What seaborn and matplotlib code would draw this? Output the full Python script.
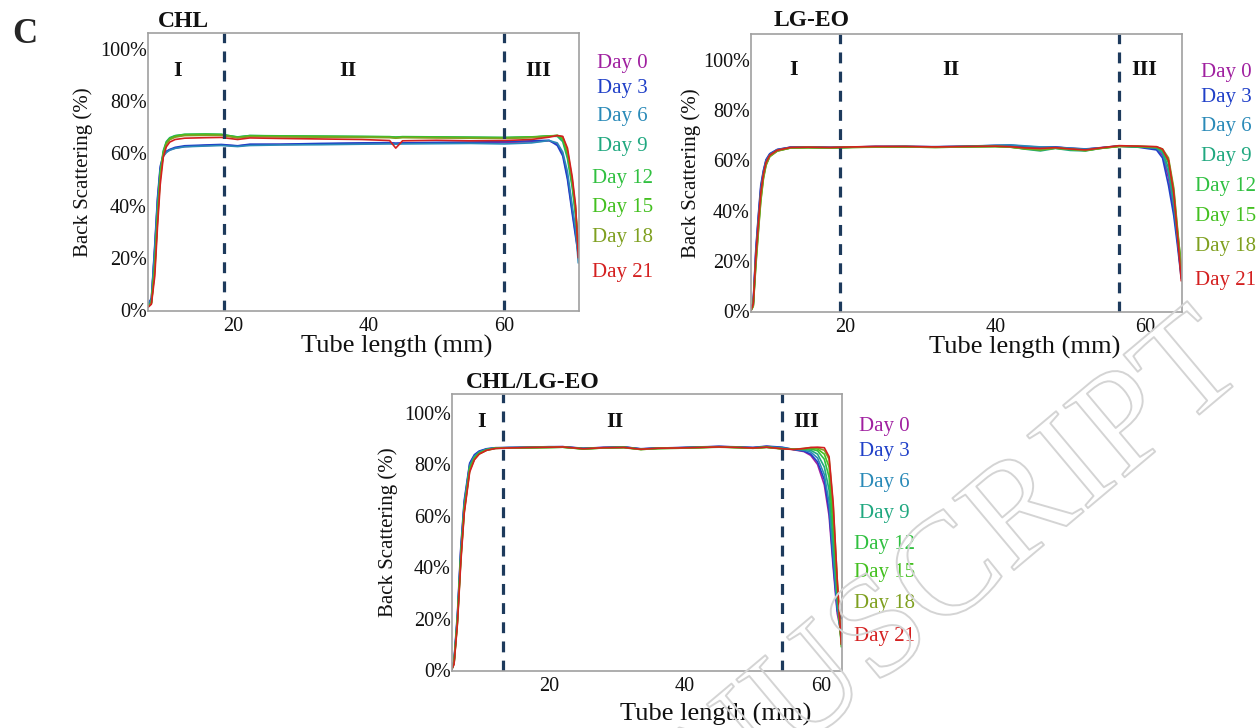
import matplotlib
matplotlib.use('Agg')
import pandas as pd
import seaborn as sns
import matplotlib.pyplot as plt
import matplotlib.patheffects as pe
from matplotlib.ticker import FuncFormatter

days = ['Day 0', 'Day 3', 'Day 6', 'Day 9', 'Day 12', 'Day 15', 'Day 18', 'Day 21']
day_colors = ['#a020a0', '#2040c8', '#2a8ab8', '#20a880', '#30c040', '#44c020', '#7fa020', '#d42020']

# CHL - back scattering (%) along the tube (mm)
chl_x = [7.5, 8.0, 8.5, 8.9, 9.3, 9.75, 10.2, 10.7, 11.5, 12.9, 16, 18.3, 20.7, 22.5, 27, 33, 39,
         43.1, 44, 45, 50, 55, 60, 64, 66.6, 67.8, 68.6, 69.3, 70.0, 70.5, 70.9]
chl_d0 = [2.0, 4.0, 24, 42, 54, 59, 60.5, 61.3, 62.0, 62.6, 63.0, 63.2, 62.8, 63.3, 63.4, 63.6, 63.8,
          63.9, 63.7, 63.9, 64.0, 64.1, 64.2, 64.4, 64.8, 63.5, 60, 51, 38, 29, 22]
chl_d3 = [2.2, 4.5, 25, 43, 55, 59.5, 60.8, 61.5, 62.3, 62.9, 63.2, 63.4, 62.9, 63.5, 63.5, 63.8, 64.0,
          64.1, 63.9, 64.0, 64.2, 64.3, 64.5, 64.8, 65.0, 63.0, 59, 50, 37, 28, 21]
chl_d6 = [1.8, 4.0, 23, 41, 53, 58.8, 60.3, 61.2, 61.9, 62.5, 62.8, 63.0, 62.6, 63.0, 63.2, 63.3, 63.5,
          63.6, 63.5, 63.6, 63.7, 63.8, 63.6, 64.0, 64.9, 64.0, 60.5, 53, 40, 31, 18]
chl_d9 = [1.5, 3.0, 18, 37, 53, 61, 64.5, 66.0, 66.8, 67.2, 67.3, 67.2, 66.3, 66.8, 66.6, 66.5, 66.4,
          66.3, 66.2, 66.3, 66.2, 66.1, 66.0, 66.2, 66.6, 66.5, 64.5, 58, 47, 36, 24]
chl_d12 = [1.4, 2.8, 17, 36, 52, 60.5, 64.2, 65.8, 66.7, 67.3, 67.4, 67.3, 66.2, 66.8, 66.7, 66.6, 66.5,
           66.4, 66.2, 66.4, 66.3, 66.2, 66.1, 66.3, 66.7, 66.8, 65.2, 59, 48, 37, 25]
chl_d15 = [1.3, 2.6, 16, 35, 51, 60, 64.0, 65.6, 66.5, 67.1, 67.2, 67.1, 66.1, 66.6, 66.5, 66.4, 66.3,
           66.2, 66.0, 66.2, 66.1, 66.0, 65.9, 66.2, 66.6, 66.8, 65.8, 60, 49, 38, 24]
chl_d18 = [1.2, 2.5, 15, 34, 50, 59.5, 63.5, 65.2, 66.2, 66.8, 66.9, 66.9, 65.9, 66.4, 66.3, 66.2, 66.1,
           66.0, 65.8, 66.0, 65.9, 65.8, 65.7, 66.0, 66.5, 66.9, 66.3, 61, 50, 39, 23]
chl_d21 = [1.0, 2.2, 13, 32, 48, 58.5, 62.5, 64.3, 65.3, 65.8, 66.0, 66.1, 65.3, 65.9, 65.7, 65.5, 65.3,
           64.9, 62.0, 64.8, 65.0, 64.8, 64.9, 65.3, 66.2, 66.8, 66.5, 62, 51, 40, 20]

# LG-EO
lg_x = [7.4, 7.7, 8.05, 8.4, 8.7, 9.05, 9.4, 9.9, 10.9, 12.7, 15, 18, 21, 24, 28, 32, 36, 40,
        42, 44, 46, 48, 50, 52, 54, 56.5, 59, 61.5, 62.3, 63.1, 63.8, 64.3, 64.8]
lg_d0 = [0.4, 3.5, 24, 38, 49, 55.5, 60, 62.5, 64.3, 65.3, 65.3, 65.2, 65.4, 65.5, 65.6, 65.4, 65.6, 65.9,
         65.8, 65.2, 65.0, 65.3, 64.8, 64.4, 65.1, 65.8, 65.5, 64.8, 62.0, 53, 40, 28, 14]
lg_d3 = [0.4, 3.8, 25, 39, 50, 56, 60.3, 62.7, 64.4, 65.3, 65.4, 65.2, 65.3, 65.6, 65.5, 65.5, 65.6, 66.0,
         66.1, 65.6, 65.3, 65.4, 64.9, 64.6, 65.0, 65.7, 65.3, 64.2, 61.0, 50, 38, 26, 13]
lg_d6 = [0.3, 3.2, 23, 37, 48, 55, 59.6, 62.3, 64.2, 65.2, 65.3, 65.1, 65.4, 65.5, 65.6, 65.4, 65.7, 66.0,
         66.2, 65.8, 65.4, 65.2, 64.9, 64.5, 65.0, 65.8, 65.5, 64.9, 62.8, 55, 42, 29, 15]
lg_d9 = [0.3, 2.5, 21, 35, 46, 54, 59, 62.0, 64.0, 65.1, 65.2, 65.0, 65.3, 65.4, 65.5, 65.3, 65.5, 65.7,
         65.4, 64.5, 63.8, 64.8, 64.0, 63.8, 64.8, 65.7, 65.4, 65.0, 63.5, 57, 44, 30, 16]
lg_d12 = [0.2, 2.2, 20, 34, 45, 53.5, 58.5, 61.8, 63.9, 65.0, 65.2, 65.1, 65.3, 65.4, 65.5, 65.3, 65.5, 65.6,
          65.4, 64.8, 64.5, 65.0, 64.5, 64.0, 64.9, 65.7, 65.5, 65.2, 64.0, 59, 46, 31, 17]
lg_d15 = [0.2, 2.0, 19, 33, 44, 53, 58.2, 61.6, 63.8, 65.0, 65.1, 65.0, 65.2, 65.4, 65.4, 65.2, 65.4, 65.6,
          65.3, 64.6, 64.2, 64.9, 64.4, 63.9, 64.8, 65.6, 65.6, 65.3, 64.3, 60, 48, 32, 18]
lg_d18 = [0.2, 1.8, 18, 32, 43.5, 52.5, 58, 61.5, 63.7, 65.0, 65.1, 65.0, 65.2, 65.3, 65.4, 65.2, 65.4, 65.5,
          65.3, 64.7, 64.3, 64.9, 64.5, 64.0, 64.8, 65.6, 65.7, 65.4, 64.6, 61, 49, 33, 17]
lg_d21 = [0.3, 2.8, 22, 36, 47, 54.5, 59.2, 62.1, 64.1, 65.2, 65.3, 65.2, 65.4, 65.6, 65.6, 65.4, 65.6, 65.7,
          65.5, 65.0, 64.8, 65.1, 64.6, 64.2, 65.0, 65.9, 65.7, 65.5, 64.5, 60, 47, 30, 12]

# CHL/LG-EO
mix_x = [5.7, 6.0, 6.5, 7.0, 7.5, 8.3, 9.0, 9.7, 10.8, 12.1, 14, 17, 20, 22, 25, 28, 31, 33.5, 36, 39,
         42, 45, 48, 50, 52, 54.3, 56, 57.5, 58.5, 59.5, 60.5, 61.2, 61.8, 62.4, 63.0]
mix_d0 = [0.6, 3.5, 21, 47, 65, 80, 83.5, 85.0, 86.0, 86.4, 86.5, 86.6, 86.8, 86.9, 86.2, 86.6, 86.8, 86.0, 86.4, 86.5,
          86.7, 87.0, 86.7, 86.5, 87.0, 86.5, 85.7, 85.0, 83.5, 80.0, 72, 60, 40, 22, 14]
mix_d3 = [0.6, 3.8, 22, 48, 66, 80.5, 83.8, 85.2, 86.1, 86.5, 86.6, 86.7, 86.9, 86.9, 86.3, 86.6, 86.8, 86.1, 86.4, 86.5,
          86.8, 87.0, 86.8, 86.6, 87.1, 86.7, 85.8, 85.2, 84.0, 81.0, 74, 62, 42, 23, 20]
mix_d6 = [0.5, 3.2, 20.5, 46, 64.5, 79.5, 83.2, 84.8, 85.9, 86.4, 86.5, 86.6, 86.8, 86.8, 86.2, 86.5, 86.7, 86.0, 86.3, 86.5,
          86.7, 86.9, 86.7, 86.5, 86.9, 86.4, 85.9, 85.5, 84.8, 82.5, 76, 65, 45, 25, 12]
mix_d9 = [0.5, 3.0, 20, 45, 63.5, 79, 82.8, 84.6, 85.8, 86.4, 86.5, 86.6, 86.7, 86.8, 86.1, 86.5, 86.7, 85.9, 86.3, 86.4,
          86.6, 86.9, 86.6, 86.4, 86.8, 86.2, 86.0, 85.8, 85.5, 84.0, 79, 70, 50, 28, 11]
mix_d12 = [0.5, 2.8, 19.5, 44, 62.5, 78.5, 82.5, 84.4, 85.7, 86.3, 86.4, 86.5, 86.6, 86.7, 86.1, 86.4, 86.6, 85.9, 86.2, 86.4,
           86.6, 86.8, 86.6, 86.3, 86.7, 86.1, 85.9, 86.0, 86.0, 85.3, 82, 75, 55, 31, 10]
mix_d15 = [0.4, 2.6, 19, 43.5, 62, 78, 82.2, 84.2, 85.6, 86.3, 86.4, 86.5, 86.6, 86.7, 86.0, 86.4, 86.6, 85.8, 86.2, 86.3,
           86.5, 86.8, 86.5, 86.3, 86.7, 86.1, 85.9, 86.1, 86.3, 86.0, 84, 79, 60, 33, 9]
mix_d18 = [0.4, 2.4, 18.5, 43, 61.5, 77.5, 82.0, 84.1, 85.5, 86.2, 86.4, 86.5, 86.6, 86.7, 86.0, 86.4, 86.5, 85.8, 86.2, 86.3,
           86.5, 86.7, 86.5, 86.3, 86.6, 86.0, 85.9, 86.2, 86.5, 86.4, 85.5, 82, 64, 35, 10]
mix_d21 = [0.4, 2.2, 18, 42, 61, 77, 81.8, 84.0, 85.5, 86.2, 86.4, 86.6, 86.7, 86.8, 86.1, 86.5, 86.6, 85.9, 86.3, 86.4,
           86.6, 86.8, 86.6, 86.4, 86.7, 86.1, 85.8, 86.2, 86.6, 86.7, 86.5, 83, 65, 35, 10]

panel_titles = ['CHL', 'LG-EO', 'CHL/LG-EO']
zone_names = ['I', 'II', 'III']
chl_zone_bounds = [18.7, 59.9]
lg_zone_bounds = [19.3, 56.5]
mix_zone_bounds = [13.2, 54.3]


def long_table(x, series):
    rows = []
    for day, ys in zip(days, series, strict=True):
        for xi, yi in zip(x, ys, strict=True):
            rows.append((day, xi, yi))
    return pd.DataFrame(rows, columns=['Day', 'Tube length', 'BS'])


tables = [
    long_table(chl_x, [chl_d0, chl_d3, chl_d6, chl_d9, chl_d12, chl_d15, chl_d18, chl_d21]),
    long_table(lg_x, [lg_d0, lg_d3, lg_d6, lg_d9, lg_d12, lg_d15, lg_d18, lg_d21]),
    long_table(mix_x, [mix_d0, mix_d3, mix_d6, mix_d9, mix_d12, mix_d15, mix_d18, mix_d21]),
]
bounds = [chl_zone_bounds, lg_zone_bounds, mix_zone_bounds]

sns.set_theme(style='white')
plt.rcParams['font.family'] = ['Liberation Serif', 'DejaVu Serif']

# layout of each panel (pixel based, 1258x728 figure)
W, H = 1258, 728
layout = [
    dict(rect=(148, 33, 579, 311), xlim=(7.5, 71.0), ylim=(-0.4, 106.1),
         zone_x=[11.9, 36.9, 65.0], zone_y=0.845, title_xy=(0.023, 1.022),
         leg_x=1.10, leg_y=[0.892, 0.802, 0.698, 0.590, 0.478, 0.371, 0.263, 0.140],
         xlab=(0.578, -0.086), ylab_x=-0.128),
    dict(rect=(751, 34, 1182, 312), xlim=(7.4, 64.9), ylim=(-0.4, 110.4),
         zone_x=[13.1, 34.1, 59.8], zone_y=0.853, title_xy=(0.053, 1.029),
         leg_x=1.102, leg_y=[0.863, 0.773, 0.669, 0.561, 0.450, 0.342, 0.234, 0.115],
         xlab=(0.636, -0.086), ylab_x=-0.116),
    dict(rect=(452, 394, 842, 671), xlim=(5.7, 63.1), ylim=(-0.4, 107.4),
         zone_x=[10.0, 29.6, 57.9], zone_y=0.881, title_xy=(0.036, 1.022),
         leg_x=1.108, leg_y=[0.881, 0.791, 0.682, 0.570, 0.458, 0.354, 0.245, 0.123],
         xlab=(0.677, -0.116), ylab_x=-0.138),
]

fig = plt.figure(figsize=(W / 100, H / 100), dpi=100)
palette = dict(zip(days, day_colors))

for df, lay, title, zb in zip(tables, layout, panel_titles, bounds):
    x0, y0, x1, y1 = lay['rect']
    ax = fig.add_axes([x0 / W, 1 - y1 / H, (x1 - x0) / W, (y1 - y0) / H])
    ax.set_facecolor('none')
    sns.lineplot(data=df, x='Tube length', y='BS', hue='Day', hue_order=days,
                 palette=palette, estimator=None, sort=False, linewidth=1.2,
                 legend=False, ax=ax)
    for xb in zb:
        ax.axvline(xb, color='#1d3a5c', lw=2.3, linestyle=(0, (3.4, 2.6)))
    ax.set_xlim(*lay['xlim'])
    ax.set_ylim(*lay['ylim'])
    ax.set_xticks([20, 40, 60])
    ax.set_yticks([0, 20, 40, 60, 80, 100])
    ax.yaxis.set_major_formatter(FuncFormatter(lambda v, p: f'{v:.0f}%'))
    ax.tick_params(axis='both', length=0, labelsize=14.5, colors='#111111')
    ax.tick_params(axis='y', pad=1)
    ax.tick_params(axis='x', pad=4)
    for s in ax.spines.values():
        s.set_color('#a0a0a0')
        s.set_linewidth(1.2)
    ax.set_xlabel('Tube length (mm)', fontsize=19, color='#111111')
    ax.xaxis.set_label_coords(*lay['xlab'])
    ax.set_ylabel('Back Scattering (%)', fontsize=15, color='#111111')
    ax.yaxis.set_label_coords(lay['ylab_x'], 0.5)
    ax.text(*lay['title_xy'], title, transform=ax.transAxes, fontsize=17,
            fontweight='bold', va='baseline', ha='left', color='#111111')
    for zx, zn in zip(lay['zone_x'], zone_names):
        ax.text(zx, lay['zone_y'], zn, transform=ax.get_xaxis_transform(),
                fontsize=16, fontweight='bold', ha='center', va='baseline', color='#111111')
    for day, col, ly in zip(days, day_colors, lay['leg_y']):
        ax.text(lay['leg_x'], ly, day, transform=ax.transAxes, color=col,
                fontsize=15, ha='center', va='center', clip_on=False)

fig.text(12 / W, 1 - 43 / H, 'C', fontsize=25, fontweight='bold', va='baseline', ha='left')

# faint "accepted manuscript" watermark
fig.text(1250 / W, 1 - 372 / H, 'MANUSCRIPT', fontsize=104, color='none', rotation=40,
         rotation_mode='anchor', ha='right', va='baseline', zorder=5,
         path_effects=[pe.withStroke(linewidth=1.4, foreground='#d4d4d4')])

fig.savefig('out.png', dpi=100)
